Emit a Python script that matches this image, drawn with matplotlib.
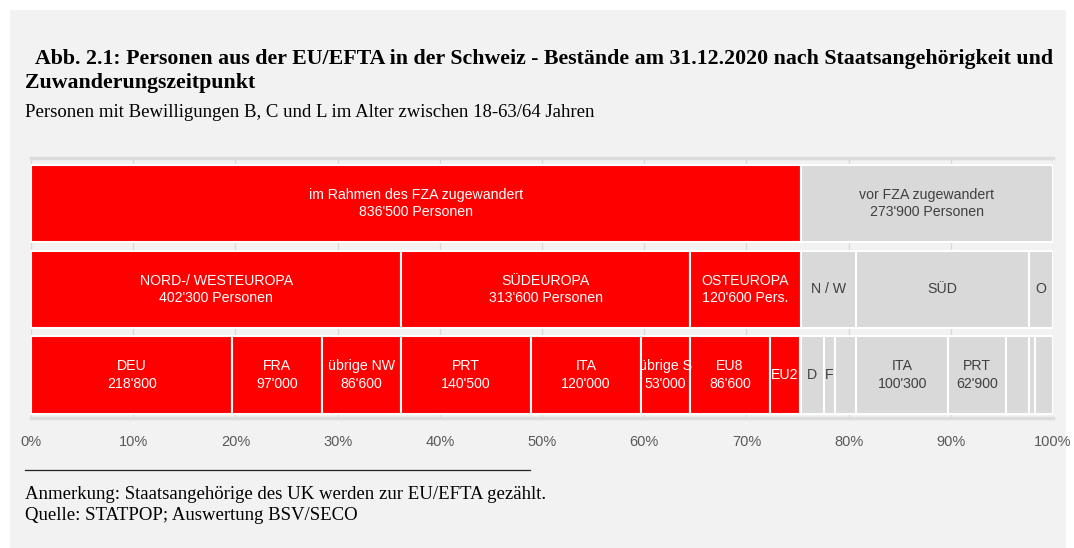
import matplotlib.pyplot as plt
from matplotlib.patches import Rectangle
from matplotlib.lines import Line2D
import numpy as np

# Zeile 1: Zuwanderungszeitpunkt
zeit_werte = [836500, 273900]
zeit_labels = ["im Rahmen des FZA zugewandert\n836'500 Personen",
               "vor FZA zugewandert\n273'900 Personen"]
zeit_fza = [True, False]

# Zeile 2: Regionen
region_werte = [402300, 313600, 120600, 59800, 188000, 26100]
region_labels = ["NORD-/ WESTEUROPA\n402'300 Personen", "SÜDEUROPA\n313'600 Personen",
                 "OSTEUROPA\n120'600 Pers.", "N / W", "SÜD", "O"]
region_fza = [True, True, True, False, False, False]

# Zeile 3: Staatsangehoerigkeit
land_werte = [218800, 97000, 86600, 140500, 120000, 53100, 86600, 32500, 1500,
              25000, 12000, 22800, 100300, 62900, 24800, 6000, 20100]
land_labels = ["DEU\n218'800", "FRA\n97'000", "übrige NW\n86'600", "PRT\n140'500",
               "ITA\n120'000", "übrige S\n53'000", "EU8\n86'600", "EU2", "",
               "D", "F", "", "ITA\n100'300", "PRT\n62'900", "", "", ""]
land_fza = [True] * 9 + [False] * 8

xticks = np.arange(0, 101, 10)
xticklabels = [f"{t}%" for t in xticks]

ROT = '#ff0000'
GRAU = '#d9d9d9'
HG = '#f2f2f2'
sans = ['Liberation Sans', 'DejaVu Sans']
serif = ['Liberation Serif', 'DejaVu Serif']

fig = plt.figure(figsize=(10.74, 5.48), dpi=100, facecolor='white')
fig.add_artist(Rectangle((10 / 1074, 0), 1056 / 1074, 538 / 548, transform=fig.transFigure,
                         facecolor=HG, edgecolor='none', zorder=-10))

ax = fig.add_axes([31 / 1074, 1 - 418 / 548, 1022 / 1074, 260 / 548])
ax.set_facecolor(HG)

rows = [(zeit_werte, zeit_labels, zeit_fza),
        (region_werte, region_labels, region_fza),
        (land_werte, land_labels, land_fza)]

for i, (werte, labels, fza) in enumerate(rows):
    anteile = np.array(werte) / sum(werte) * 100
    links = np.concatenate([[0], np.cumsum(anteile)[:-1]])
    farben = [ROT if f else GRAU for f in fza]
    ax.barh(i, anteile, left=links, height=0.9, color=farben,
            edgecolor='white', linewidth=1.5, zorder=3)
    for l, w, lab, f in zip(links, anteile, labels, fza):
        if lab:
            ax.text(l + w / 2, i, lab, ha='center', va='center', fontsize=10.2,
                    color='white' if f else '#404040', family=sans,
                    linespacing=1.3, zorder=4)

ax.set_xlim(0, 100)
ax.set_ylim(2.5, -0.53)
ax.set_xticks(xticks)
ax.set_xticklabels(xticklabels, family=sans, fontsize=10.5, color='#595959')
ax.set_yticks([])
ax.tick_params(axis='x', length=0, pad=12)
ax.grid(axis='x', color=GRAU, linewidth=1, zorder=0)
for s in ['left', 'right']:
    ax.spines[s].set_visible(False)
for s in ['top', 'bottom']:
    ax.spines[s].set_color('#dcdcdc')
    ax.spines[s].set_linewidth(2.5)

fig.text(35 / 1074, 1 - 64 / 548,
         "Abb. 2.1: Personen aus der EU/EFTA in der Schweiz - Bestände am 31.12.2020 nach Staatsangehörigkeit und",
         family=serif, fontsize=15.75, fontweight='bold', va='baseline')
fig.text(25 / 1074, 1 - 88 / 548, "Zuwanderungszeitpunkt",
         family=serif, fontsize=15.75, fontweight='bold', va='baseline')
fig.text(25 / 1074, 1 - 117 / 548,
         "Personen mit Bewilligungen B, C und L im Alter zwischen 18-63/64 Jahren",
         family=serif, fontsize=13.5, va='baseline')

fig.add_artist(Line2D([25 / 1074, 530 / 1074], [1 - 470 / 548, 1 - 470 / 548],
                      transform=fig.transFigure, color='#222222', linewidth=0.9))
fig.text(25 / 1074, 1 - 499 / 548,
         "Anmerkung: Staatsangehörige des UK werden zur EU/EFTA gezählt.",
         family=serif, fontsize=13.5, va='baseline')
fig.text(25 / 1074, 1 - 520 / 548, "Quelle: STATPOP; Auswertung BSV/SECO",
         family=serif, fontsize=13.5, va='baseline')

fig.savefig('out.png', dpi=100, facecolor='white')
